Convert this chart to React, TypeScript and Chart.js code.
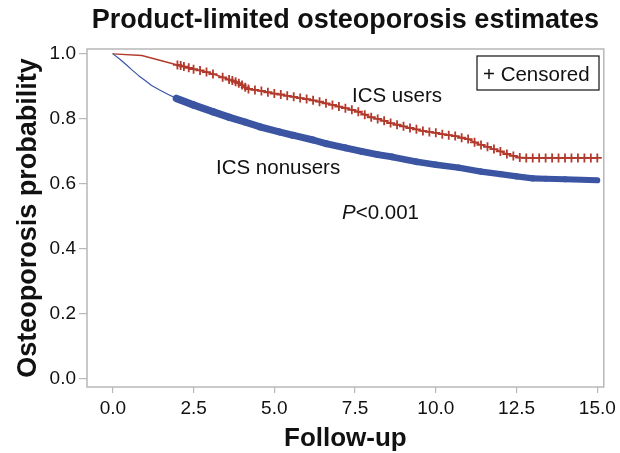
import React, { useEffect, useRef } from "react";
import { Chart, registerables } from "chart.js";

Chart.register(...registerables);

// Kaplan-Meier curves (follow-up years, survival probability)
const usersTime = [0, 0.9, 2.0, 2.1, 2.2, 2.35, 2.5, 2.7, 2.9, 3.1, 3.4, 3.6, 3.7, 3.8, 3.9, 4.0, 4.1, 4.2, 4.4, 4.6, 4.8, 5.0, 5.2, 5.4, 5.6, 5.8, 6.0, 6.2, 6.4, 6.6, 6.8, 7.0, 7.2, 7.4, 7.6, 7.8, 8.0, 8.2, 8.4, 8.6, 8.8, 9.0, 9.2, 9.4, 9.6, 9.8, 10.0, 10.2, 10.4, 10.6, 10.8, 11.0, 11.2, 11.4, 11.6, 11.8, 12.0, 12.2, 12.4, 12.6, 12.8, 13.0, 13.2, 13.4, 13.6, 13.8, 14.0, 14.2, 14.4, 14.6, 14.8, 15.0];
const usersSurv = [1.0, 0.995, 0.966, 0.964, 0.961, 0.957, 0.953, 0.949, 0.944, 0.938, 0.928, 0.921, 0.918, 0.914, 0.91, 0.904, 0.897, 0.892, 0.889, 0.886, 0.882, 0.878, 0.875, 0.871, 0.868, 0.864, 0.861, 0.857, 0.853, 0.848, 0.843, 0.838, 0.833, 0.828, 0.822, 0.813, 0.805, 0.8, 0.794, 0.787, 0.782, 0.777, 0.772, 0.768, 0.763, 0.76, 0.757, 0.753, 0.75, 0.747, 0.742, 0.738, 0.728, 0.72, 0.714, 0.707, 0.7, 0.692, 0.686, 0.681, 0.68, 0.68, 0.68, 0.68, 0.68, 0.68, 0.68, 0.68, 0.68, 0.68, 0.68, 0.68];

const nonusersTime = [0, 0.2, 0.4, 0.6, 0.8, 1.0, 1.2, 1.45, 1.7, 1.97, 2.5, 3.1, 3.6, 4.1, 4.54, 5.15, 5.6, 6.2, 6.6, 7.2, 7.7, 8.2, 8.65, 9.4, 10.0, 10.7, 11.4, 12.0, 12.5, 13.0, 13.4, 14.0, 15.0];
const nonusersSurv = [1.0, 0.985, 0.968, 0.95, 0.933, 0.918, 0.903, 0.889, 0.876, 0.863, 0.843, 0.822, 0.805, 0.79, 0.776, 0.76, 0.749, 0.735, 0.724, 0.711, 0.7, 0.69, 0.683, 0.668, 0.659, 0.65, 0.638, 0.63, 0.623, 0.617, 0.616, 0.614, 0.611];

const xTicks = [0, 2.5, 5, 7.5, 10, 12.5, 15];
const yTicks = [0, 0.2, 0.4, 0.6, 0.8, 1.0];

const RED = "#b23a2c";
const BLUE = "#3b55a3";
const FONT = "'Liberation Sans', Arial, sans-serif";

const annotations = {
  id: "annotations",
  afterDatasetsDraw(chart: any) {
    const { ctx, chartArea } = chart;
    ctx.save();
    // frame
    ctx.strokeStyle = "#b8b8b8";
    ctx.lineWidth = 1.5;
    ctx.strokeRect(chartArea.left, chartArea.top, chartArea.right - chartArea.left, chartArea.bottom - chartArea.top);
    ctx.fillStyle = "#111";
    ctx.textBaseline = "alphabetic";
    ctx.textAlign = "left";
    ctx.font = `20.5px ${FONT}`;
    ctx.fillText("ICS users", 352, 102);
    ctx.fillText("ICS nonusers", 216, 174);
    ctx.font = `italic 20.5px ${FONT}`;
    ctx.fillText("P", 342, 219);
    const pw = ctx.measureText("P").width;
    ctx.font = `20.5px ${FONT}`;
    ctx.fillText("<0.001", 342 + pw, 219);
    // censor legend box
    ctx.strokeStyle = "#111";
    ctx.lineWidth = 1.2;
    ctx.strokeRect(477, 56, 122, 34);
    ctx.fillText("+ Censored", 483, 81);
    ctx.restore();
  },
};

export default function App() {
  const ref = useRef<HTMLCanvasElement>(null);
  useEffect(() => {
    document.body.style.margin = "0";
    const users = usersTime.map((t, i) => ({ x: t, y: usersSurv[i] }));
    const nonusers = nonusersTime.map((t, i) => ({ x: t, y: nonusersSurv[i] }));
    const chart = new Chart(ref.current!, {
      type: "line",
      data: {
        datasets: [
          {
            label: "ICS nonusers",
            data: nonusers,
            borderColor: BLUE,
            backgroundColor: BLUE,
            pointRadius: 0,
            tension: 0,
            borderWidth: 1.2,
            borderCapStyle: "round",
            borderJoinStyle: "round",
            segment: {
              borderWidth: (c: any) => (c.p0.parsed.x >= 1.9 ? 7.5 - 0.13 * (c.p0.parsed.x - 2) : 1.2),
            },
          },
          {
            label: "ICS users",
            data: users,
            borderColor: RED,
            backgroundColor: RED,
            borderWidth: 1.5,
            tension: 0,
            pointStyle: "cross",
            pointRadius: (c: any) => (c.dataIndex < 2 ? 0 : 4.5),
            pointBorderWidth: 1.8,
            pointBorderColor: RED,
          },
        ],
      },
      options: {
        animation: false,
        responsive: false,
        layout: { padding: { left: 0, right: 14, top: 0, bottom: 0 } },
        plugins: {
          legend: { display: false },
          tooltip: { enabled: false },
          title: {
            display: true,
            text: "Product-limited osteoporosis estimates",
            fullSize: false,
            color: "#111",
            font: { family: FONT, size: 27, weight: "bold", lineHeight: 1.2 },
            padding: { top: 4, bottom: 12.6 },
          },
        },
        scales: {
          x: {
            type: "linear",
            min: -0.8,
            max: 15.2,
            afterBuildTicks: (s: any) => { s.ticks = xTicks.map((v) => ({ value: v })); },
            afterFit: (s: any) => { s.height = 66; },
            border: { display: false },
            grid: { drawOnChartArea: false, drawTicks: true, tickLength: 6, color: "#b8b8b8", lineWidth: 1.2 },
            ticks: {
              color: "#111",
              font: { family: FONT, size: 19 },
              padding: 4,
              maxRotation: 0,
              callback: (v: any) => Number(v).toFixed(1),
            },
            title: {
              display: true,
              text: "Follow-up",
              color: "#111",
              font: { family: FONT, size: 26, weight: "bold", lineHeight: 1 },
              padding: { top: 0, bottom: 1 },
            },
          },
          y: {
            type: "linear",
            min: -0.025,
            max: 1.015,
            afterBuildTicks: (s: any) => { s.ticks = yTicks.map((v) => ({ value: v })); },
            afterFit: (s: any) => { s.width = 87; },
            border: { display: false },
            grid: { drawOnChartArea: false, drawTicks: true, tickLength: 8, color: "#b8b8b8", lineWidth: 1.2 },
            ticks: {
              color: "#111",
              font: { family: FONT, size: 19 },
              padding: 3,
              callback: (v: any) => Number(v).toFixed(1),
            },
            title: {
              display: true,
              text: "Osteoporosis probability",
              color: "#111",
              font: { family: FONT, size: 27, weight: "bold", lineHeight: 1 },
              padding: { top: 15, bottom: 0 },
            },
          },
        },
      },
      plugins: [annotations],
    } as any);
    return () => chart.destroy();
  }, []);
  return (
    <div style={{ width: 620, height: 453 }}>
      <canvas ref={ref} width={620} height={453} style={{ width: 620, height: 453 }} />
    </div>
  );
}
